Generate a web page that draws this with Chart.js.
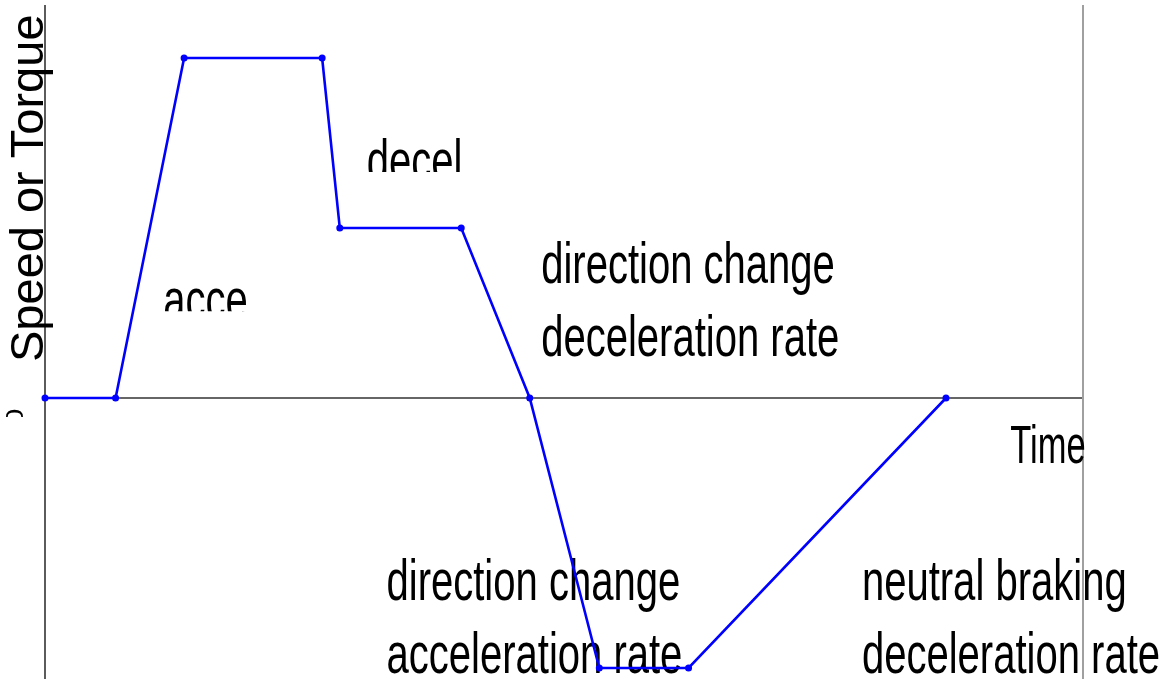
<!DOCTYPE html>
<html>
<head>
<meta charset="utf-8">
<script src="https://cdn.jsdelivr.net/npm/chart.js@4/dist/chart.umd.min.js"></script>
<style>
  html, body { margin: 0; padding: 0; background: #fff; }
  #chart-container { width: 1163px; height: 679px; }
</style>
</head>
<body>
<div id="chart-container"><canvas id="speedChart" width="1163" height="679"></canvas></div>
<script>
// profile corners: time (arbitrary units) and speed/torque level
const timeValues = [0, 6.8, 13.4, 26.7, 28.4, 40.1, 46.7, 53.4, 62.0, 86.8];
const speedValues = [0, 0, 100, 100, 50, 50, 0, -79.4, -79.4, 0];

const yAxisTitle = "Speed or Torque";
const xAxisTitle = "Time";
const zeroLabel = "0";

const noteTexts = [
  ["acce"],
  ["decel"],
  ["direction change", "deceleration rate"],
  ["direction change", "acceleration rate"],
  ["neutral braking", "deceleration rate"],
];
// where the notes sit, in chart units
const noteTimes = [11.4, 31.0, 47.8, 32.9, 78.7];
const noteLevels = [23.2, 64.1, 33.8, -59.4, -59.4];
// some notes are cut off at the bottom in the original
const noteClipLevels = [25.5, 66.5, null, null, null];

const timeLabelAt = { x: 93.0, y: -19.1 };

function drawNarrow(ctx, text, x, y, size, squeeze) {
  ctx.save();
  ctx.translate(x, y);
  ctx.scale(squeeze, 1);
  ctx.font = size + "px 'Liberation Sans', Arial, sans-serif";
  ctx.textBaseline = "alphabetic";
  ctx.textAlign = "left";
  ctx.fillStyle = "#000";
  ctx.fillText(text, 0, 0);
  ctx.restore();
}

const axesAndNotes = {
  id: "axesAndNotes",
  beforeDatasetsDraw(chart) {
    const { ctx, chartArea, scales } = chart;
    const y0 = scales.y.getPixelForValue(0);
    ctx.save();
    // left axis
    ctx.strokeStyle = "#333";
    ctx.lineWidth = 1.6;
    ctx.beginPath();
    ctx.moveTo(chartArea.left, chartArea.top);
    ctx.lineTo(chartArea.left, chartArea.bottom);
    ctx.stroke();
    // time axis
    ctx.lineWidth = 1.3;
    ctx.beginPath();
    ctx.moveTo(chartArea.left, y0);
    ctx.lineTo(chartArea.right, y0);
    ctx.stroke();
    // right border
    ctx.strokeStyle = "#a0a0a0";
    ctx.lineWidth = 2;
    ctx.beginPath();
    ctx.moveTo(chartArea.right, chartArea.top);
    ctx.lineTo(chartArea.right, chartArea.bottom);
    ctx.stroke();
    ctx.restore();

    // notes
    noteTexts.forEach((lines, i) => {
      const x = scales.x.getPixelForValue(noteTimes[i]);
      const y = scales.y.getPixelForValue(noteLevels[i]);
      ctx.save();
      if (noteClipLevels[i] !== null) {
        const clipY = scales.y.getPixelForValue(noteClipLevels[i]);
        ctx.beginPath();
        ctx.rect(0, 0, chart.width, clipY);
        ctx.clip();
      }
      lines.forEach((line, j) => drawNarrow(ctx, line, x, y + j * 73, 58, 0.69));
      ctx.restore();
    });

    drawNarrow(ctx, xAxisTitle, scales.x.getPixelForValue(timeLabelAt.x),
      scales.y.getPixelForValue(timeLabelAt.y), 53, 0.65);

    // y title, rotated
    ctx.save();
    ctx.translate(43, 362);
    ctx.rotate(-Math.PI / 2);
    ctx.font = "47px 'Liberation Sans', Arial, sans-serif";
    ctx.fillStyle = "#000";
    ctx.textAlign = "left";
    ctx.textBaseline = "alphabetic";
    ctx.fillText(yAxisTitle, 0, 0);
    ctx.restore();

    // zero tick, half hidden
    ctx.save();
    ctx.beginPath();
    ctx.rect(0, 0, 40, y0 + 19);
    ctx.clip();
    ctx.translate(23, y0 + 19);
    ctx.rotate(-Math.PI / 2);
    ctx.scale(1, 0.8);
    ctx.font = "30px 'Liberation Sans', Arial, sans-serif";
    ctx.fillStyle = "#000";
    ctx.textAlign = "center";
    ctx.textBaseline = "alphabetic";
    ctx.fillText(zeroLabel, 0, 0);
    ctx.restore();
  },
};

new Chart(document.getElementById("speedChart"), {
  type: "line",
  data: {
    datasets: [
      {
        label: "profile",
        data: timeValues.map((t, i) => ({ x: t, y: speedValues[i] })),
        borderColor: "#0000ff",
        backgroundColor: "#0000ff",
        borderWidth: 2.6,
        pointRadius: 2.2,
        pointHoverRadius: 2.2,
        tension: 0,
        fill: false,
        clip: false,
      },
    ],
  },
  options: {
    responsive: false,
    animation: false,
    events: [],
    layout: { autoPadding: false, padding: { left: 45, right: 80, top: 5, bottom: 0 } },
    plugins: { legend: { display: false }, tooltip: { enabled: false } },
    scales: {
      x: { type: "linear", min: 0, max: 100, display: false },
      y: { type: "linear", min: -82.65, max: 115.6, display: false },
    },
  },
  plugins: [axesAndNotes],
});
</script>
</body>
</html>
